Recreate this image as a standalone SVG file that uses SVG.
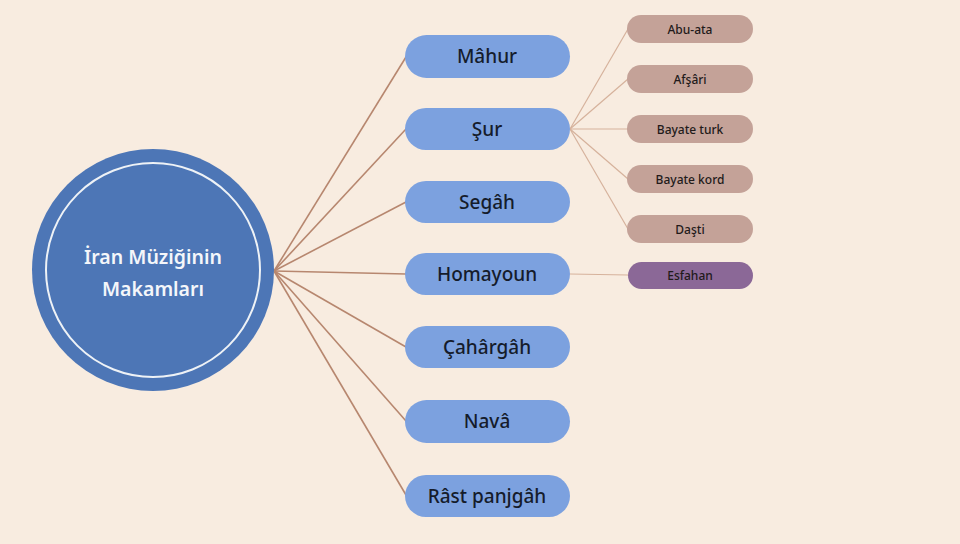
<svg xmlns="http://www.w3.org/2000/svg" width="960" height="544" viewBox="0 0 960 544">
<style>
.mid{fill:#7ca1df}
.midt{font-family:"Noto Sans","Liberation Sans",sans-serif;font-size:19px;font-weight:500;fill:#151c2b;text-anchor:middle;dominant-baseline:central}
.sub{fill:#c4a298}
.subt{font-family:"Noto Sans","Liberation Sans",sans-serif;font-size:12px;font-weight:500;fill:#221a1a;text-anchor:middle;dominant-baseline:central}
.c1{stroke:#b7876f;stroke-width:1.6;fill:none}
.c2{stroke:#d6b29c;stroke-width:1.2;fill:none}
.rt{font-family:"Noto Sans","Liberation Sans",sans-serif;font-size:19.5px;font-weight:600;fill:#f4f6fa;text-anchor:middle;dominant-baseline:central}
</style>
<rect width="960" height="544" fill="#f8ece0"/>
<g id="connectors">
<line class="c1" x1="274" y1="271" x2="406" y2="57"/>
<line class="c1" x1="274" y1="271" x2="406" y2="129"/>
<line class="c1" x1="274" y1="271" x2="406" y2="202"/>
<line class="c1" x1="274" y1="271" x2="406" y2="274"/>
<line class="c1" x1="274" y1="271" x2="406" y2="347"/>
<line class="c1" x1="274" y1="271" x2="406" y2="421"/>
<line class="c1" x1="274" y1="271" x2="406" y2="495"/>
<line class="c2" x1="570" y1="129" x2="628" y2="29"/>
<line class="c2" x1="570" y1="129" x2="628" y2="79"/>
<line class="c2" x1="570" y1="129" x2="628" y2="129"/>
<line class="c2" x1="570" y1="129" x2="628" y2="179"/>
<line class="c2" x1="570" y1="129" x2="628" y2="229"/>
<line class="c2" x1="570" y1="274" x2="628" y2="275"/>
</g>
<g id="root">
<circle cx="153" cy="270" r="121" fill="#4d76b6"/>
<circle cx="153" cy="270" r="107" fill="none" stroke="#eef2f6" stroke-width="2"/>
<text class="rt" x="153" y="256">İran Müziğinin</text>
<text class="rt" x="153" y="288">Makamları</text>
</g>
<g id="n-mahur"><rect class="mid" x="405" y="35" width="165" height="43" rx="21.5"/><text class="midt" x="487" y="56">Mâhur</text></g>
<g id="n-sur"><rect class="mid" x="405" y="108" width="165" height="42" rx="21"/><text class="midt" x="487" y="129">Şur</text></g>
<g id="n-segah"><rect class="mid" x="405" y="181" width="165" height="42" rx="21"/><text class="midt" x="487" y="202">Segâh</text></g>
<g id="n-homayoun"><rect class="mid" x="405" y="253" width="165" height="42" rx="21"/><text class="midt" x="487" y="274">Homayoun</text></g>
<g id="n-cahargah"><rect class="mid" x="405" y="326" width="165" height="42" rx="21"/><text class="midt" x="487" y="347">Çahârgâh</text></g>
<g id="n-nava"><rect class="mid" x="405" y="400" width="165" height="43" rx="21.5"/><text class="midt" x="487" y="421">Navâ</text></g>
<g id="n-rast"><rect class="mid" x="405" y="475" width="165" height="42" rx="21"/><text class="midt" x="487" y="496">Râst panjgâh</text></g>
<g id="s-abuata"><rect class="sub" x="627" y="15" width="126" height="28" rx="14"/><text class="subt" x="690" y="29">Abu-ata</text></g>
<g id="s-afsari"><rect class="sub" x="627" y="65" width="126" height="28" rx="14"/><text class="subt" x="690" y="79">Afşâri</text></g>
<g id="s-bturk"><rect class="sub" x="627" y="115" width="126" height="28" rx="14"/><text class="subt" x="690" y="129">Bayate turk</text></g>
<g id="s-bkord"><rect class="sub" x="627" y="165" width="126" height="28" rx="14"/><text class="subt" x="690" y="179">Bayate kord</text></g>
<g id="s-dasti"><rect class="sub" x="627" y="215" width="126" height="28" rx="14"/><text class="subt" x="690" y="229">Daşti</text></g>
<g id="s-esfahan"><rect x="628" y="262" width="125" height="27" rx="13.5" fill="#8b6897"/><text class="subt" x="690" y="275.5">Esfahan</text></g>
</svg>
